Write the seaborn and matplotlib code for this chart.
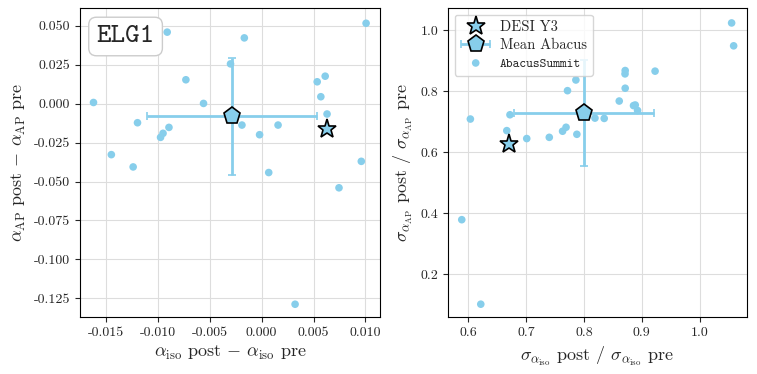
import numpy as np
import pandas as pd
import matplotlib
matplotlib.use('Agg')
import matplotlib.pyplot as plt
from matplotlib.legend_handler import HandlerErrorbar
import seaborn as sns

# AbacusSummit boxes: shift in alpha (post - pre)
d_aiso = [-0.0162, -0.0091, -0.00167, 0.01006, -0.0030, -0.0073, -0.0056, 0.00535,
          0.00612, 0.0057, 0.0063, -0.01196, -0.00893, -0.0095, -0.00974, -0.0019,
          -0.0002, 0.00158, -0.01448, -0.01238, 0.0096, 0.00068, 0.00745, 0.00322]
d_aap = [0.0008, 0.046, 0.0423, 0.0517, 0.0256, 0.0154, 0.0002, 0.0141,
         0.0177, 0.0045, -0.0066, -0.0122, -0.0152, -0.019, -0.0216, -0.0137,
         -0.0199, -0.0137, -0.0327, -0.0406, -0.037, -0.0442, -0.054, -0.1288]

# AbacusSummit boxes: ratio of errors (post / pre)
r_siso = [1.0554, 1.0589, 0.8713, 0.871, 0.923, 0.786, 0.7715, 0.8713, 0.861, 0.8857,
          0.8887, 0.8927, 0.819, 0.835, 0.672, 0.6035, 0.6665, 0.769, 0.763, 0.7877,
          0.740, 0.701, 0.5886, 0.6215]
r_sap = [1.023, 0.948, 0.867, 0.856, 0.865, 0.836, 0.801, 0.809, 0.767, 0.752,
         0.754, 0.736, 0.711, 0.710, 0.722, 0.708, 0.670, 0.681, 0.668, 0.658,
         0.648, 0.644, 0.378, 0.101]

# DESI Y3 and mean of the mocks (with std)
desi_shift = [0.00626, -0.0162]
mean_shift = [-0.00287, -0.0079]
std_shift = [0.0082, 0.0376]
desi_ratio = [0.6705, 0.625]
mean_ratio = [0.8003, 0.728]
std_ratio = [0.121, 0.175]

# tick labels
xt_left = [-0.015, -0.010, -0.005, 0.0, 0.005, 0.010]
yt_left = [-0.125, -0.100, -0.075, -0.050, -0.025, 0.0, 0.025, 0.050]
xt_right = [0.6, 0.7, 0.8, 0.9, 1.0]
yt_right = [0.2, 0.4, 0.6, 0.8, 1.0]

sns.set_style('ticks')
plt.rcParams['font.family'] = 'serif'
plt.rcParams['font.serif'] = ['cmr10', 'DejaVu Serif']
plt.rcParams['mathtext.fontset'] = 'cm'
plt.rcParams['axes.formatter.use_mathtext'] = True
plt.rcParams['axes.unicode_minus'] = True

col = 'skyblue'
fig = plt.figure(figsize=(7.57, 3.74), dpi=100)
ax1 = fig.add_axes([80 / 757, 1 - 317 / 374, 300 / 757, 309 / 374])
ax2 = fig.add_axes([448 / 757, 1 - 317 / 374, 299 / 757, 309 / 374])

def panel(ax, xs, ys, desi, mean, std):
    ax.grid(True, color='#dddddd', lw=0.8)
    ax.set_axisbelow(True)
    df = pd.DataFrame({'x': xs, 'y': ys})
    sns.scatterplot(data=df, x='x', y='y', ax=ax, color=col, s=30,
                    edgecolor='none', label='AbacusSummit', zorder=2)
    eb = ax.errorbar(mean[0], mean[1], xerr=std[0], yerr=std[1], fmt='p', color=col,
                     ms=12.5, mec='k', mew=1.2, ecolor=col, elinewidth=2, capsize=3,
                     capthick=1.5, label='Mean Abacus', zorder=3)
    ax.plot(desi[0], desi[1], '*', color=col, ms=14, mec='k', mew=1.2,
            label='DESI Y3', zorder=4, ls='none')
    for s in ax.spines.values():
        s.set_color('k')
    ax.tick_params(labelsize=10)
    return eb

ax = ax1
panel(ax, d_aiso, d_aap, desi_shift, mean_shift, std_shift)
ax.set_xlim(-0.0175, 0.0114)
ax.set_ylim(-0.137, 0.0615)
ax.set_xticks(xt_left)
ax.set_yticks(yt_left)
ax.xaxis.set_major_formatter(matplotlib.ticker.FormatStrFormatter('%.3f'))
ax.yaxis.set_major_formatter(matplotlib.ticker.FormatStrFormatter('%.3f'))
ax.set_xlabel(r'$\alpha_{\rm iso}$ post $-$ $\alpha_{\rm iso}$ pre', fontsize=13)
ax.set_ylabel(r'$\alpha_{\rm AP}$ post $-$ $\alpha_{\rm AP}$ pre', fontsize=13)
ax.get_legend().remove()
ax.text(0.055, 0.945, 'ELG1', transform=ax.transAxes, fontsize=20, family='cmtt10',
        va='top', ha='left',
        bbox=dict(boxstyle='round,pad=0.28', fc='white', ec='#cccccc', lw=1))

ax = ax2
eb = panel(ax, r_siso, r_sap, desi_ratio, mean_ratio, std_ratio)
ax.set_xlim(0.5648, 1.082)
ax.set_ylim(0.059, 1.072)
ax.set_xticks(xt_right)
ax.set_yticks(yt_right)
ax.xaxis.set_major_formatter(matplotlib.ticker.FormatStrFormatter('%.1f'))
ax.yaxis.set_major_formatter(matplotlib.ticker.FormatStrFormatter('%.1f'))
ax.set_xlabel(r'$\sigma_{\alpha_{\rm iso}}$ post / $\sigma_{\alpha_{\rm iso}}$ pre', fontsize=13)
ax.set_ylabel(r'$\sigma_{\alpha_{\rm AP}}$ post / $\sigma_{\alpha_{\rm AP}}$ pre', fontsize=13)
h, l = ax.get_legend_handles_labels()
order = [l.index('DESI Y3'), l.index('Mean Abacus'), l.index('AbacusSummit')]
leg = ax.legend([h[i] for i in order], [l[i] for i in order], loc='upper left',
                fontsize=10.5, framealpha=0.8, borderaxespad=0.45, handletextpad=0.6,
                labelspacing=0.3, borderpad=0.4, handlelength=2.1,
                handler_map={eb: HandlerErrorbar(xerr_size=1.0, yerr_size=0.2)})
leg.get_texts()[2].set_family('cmtt10')
leg.get_texts()[2].set_fontsize(9.3)

fig.savefig('out.png', dpi=100)
